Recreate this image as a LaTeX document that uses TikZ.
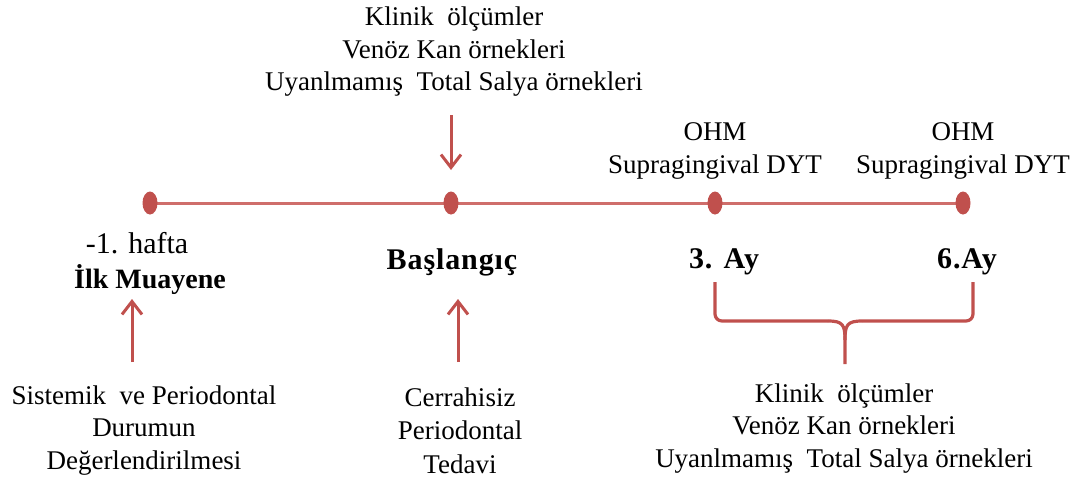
\documentclass[tikz,border=0pt]{standalone}
\usepackage{fontspec}
\setmainfont{Liberation Serif}
\usetikzlibrary{arrows.meta,shapes.geometric}
\definecolor{acc}{HTML}{C0504D}
\definecolor{accl}{HTML}{CF6E6B}
\tikzset{
  txt/.style={align=center, inner sep=0pt, font=\fontsize{27}{32.5}\selectfont},
  txtm/.style={align=center, inner sep=0pt, font=\fontsize{27}{33.5}\selectfont},
  bold/.style={inner sep=0pt, font=\fontsize{28}{32}\selectfont\bfseries},
  boldw/.style={inner sep=0pt, font=\fontsize{30}{32}\selectfont\bfseries\addfontfeature{LetterSpace=3}},
  dot/.style={ellipse, fill=acc, minimum width=15pt, minimum height=23pt, inner sep=0pt},
  arr/.style={draw=acc, line width=3pt, -{Straight Barb[length=13pt,width=20pt,line width=3pt]}},
  brace/.style={draw=acc, line width=3.2pt},
  tline/.style={draw=accl, line width=3pt}
}
\begin{document}
\begin{tikzpicture}[x=1pt,y=-1pt]
\useasboundingbox (0,0) rectangle (1081,483);
% timeline
\coordinate (a) at (150,203);
\coordinate (b) at (451,203);
\coordinate (c) at (715,203);
\coordinate (d) at (963,203);
\draw[tline] (a) -- (d);
\node[dot] (da) at (a) {};
\node[dot] (db) at (b) {};
\node[dot] (dc) at (c) {};
\node[dot] (dd) at (d) {};
% top text
\node[txt] (top) at (454,52) {Klinik\ \ ölçümler\\Venöz Kan örnekleri\\Uyanlmamış\ \ Total Salya örnekleri};
\node[txt] (ohm1) at (715,151) {OHM\\Supragingival DYT};
\node[txt] (ohm2) at (963,151) {OHM\\Supragingival DYT};
% labels below timeline
\node[inner sep=0pt, font=\fontsize{30}{32}\selectfont] (hafta) at (137,243) {-1. hafta};
\node[bold] (ilk) at (150,280) {İlk Muayene};
\node[boldw] (bas) at (452,262) {Başlangıç};
\node[boldw] (ay3) at (724,262) {3. Ay};
\node[boldw] (ay6) at (967,262) {6.Ay};
% bottom text
\node[txt] (sis) at (144,430.5) {Sistemik\ \ ve Periodontal\\Durumun\\Değerlendirilmesi};
\node[txtm] (cer) at (460,430.5) {Cerrahisiz\\Periodontal\\Tedavi};
\node[txt] (kl2) at (844,428.5) {Klinik\ \ ölçümler\\Venöz Kan örnekleri\\Uyanlmamış\ \ Total Salya örnekleri};
% arrows
\coordinate (t1) at (451,115);
\coordinate (t2) at (451,170);
\draw[arr] (t1) -- (t2);
\coordinate (l1) at (132,362);
\coordinate (l2) at (132,299);
\draw[arr] (l1) -- (l2);
\coordinate (m1) at (458,362);
\coordinate (m2) at (458,299);
\draw[arr] (m1) -- (m2);
% brace
\coordinate (bl) at (715,282);
\coordinate (br) at (973,282);
\coordinate (bm) at (845,364);
\draw[brace, rounded corners=7pt] (bl) -- (715,321) -- (828,321);
\draw[brace, rounded corners=7pt] (br) -- (973,321) -- (862,321);
\draw[brace] (828,321) .. controls (843,321) and (845,325) .. (845,340) -- (bm);
\draw[brace] (862,321) .. controls (847,321) and (845,325) .. (845,340);
\end{tikzpicture}
\end{document}
